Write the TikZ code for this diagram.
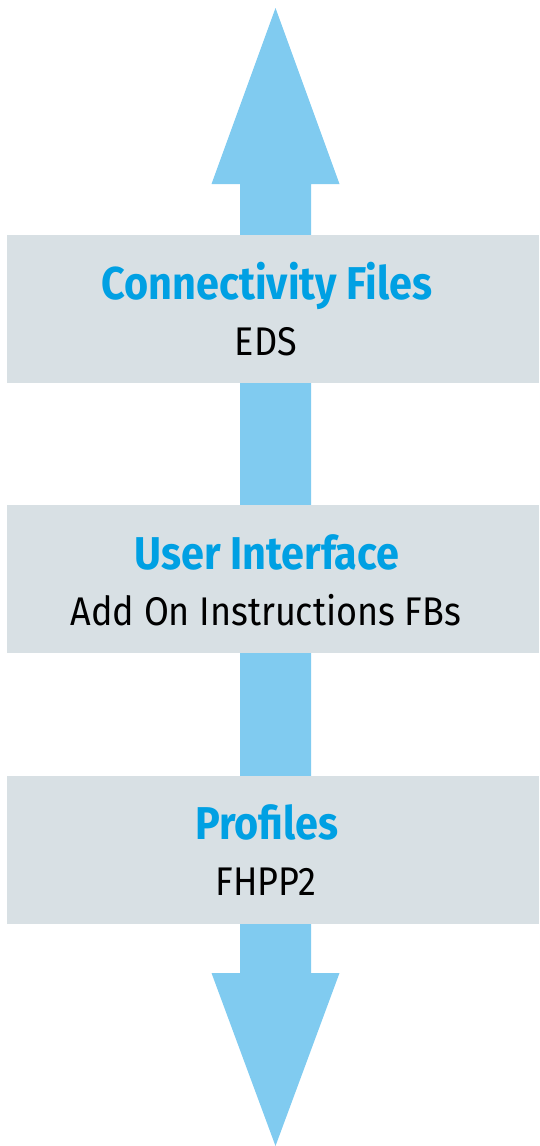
\documentclass[tikz,border=0pt]{standalone}
\usepackage{fontspec}
\setmainfont{Fira Sans}[FakeStretch=0.9]
\definecolor{arrowblue}{RGB}{128,203,240}
\definecolor{boxgray}{RGB}{216,224,228}
\definecolor{titleblue}{RGB}{0,160,227}
\begin{document}
\begin{tikzpicture}[x=1pt,y=-1pt,
    layer/.style={fill=boxgray, inner sep=0pt, minimum width=532pt, minimum height=147.5pt, anchor=north west},
    title/.style={anchor=base, text=titleblue, font=\fontsize{46}{54}\selectfont\bfseries},
    detail/.style={anchor=base, text=black, font=\fontsize{40}{48}\selectfont}]
    \useasboundingbox (0,0) rectangle (539,1146);

    % Double arrow
    \coordinate (top) at (275.5,8);
    \coordinate (bottom) at (275.5,1146);
    \fill[arrowblue] (top) -- (339.5,184) -- (311,184) -- (311,973) -- (339.5,973)
        -- (bottom) -- (211.5,973) -- (240,973) -- (240,184) -- (211.5,184) -- cycle;

    % Layers
    \node[layer] (conn) at (7,235) {};
    \node[layer] (ui) at (7,505) {};
    \node[layer] (prof) at (7,776) {};

    % Texts
    \node[title] (conntitle) at (267,299) {Connectivity Files};
    \node[detail] (conntext) at (266,355) {EDS};
    \node[title] (uititle) at (267,569) {User Interface};
    \node[detail] (uitext) at (266,625) {Add On Instructions FBs};
    \node[title] (proftitle) at (267,839) {Profiles};
    \node[detail] (proftext) at (266,895) {FHPP2};
\end{tikzpicture}
\end{document}
